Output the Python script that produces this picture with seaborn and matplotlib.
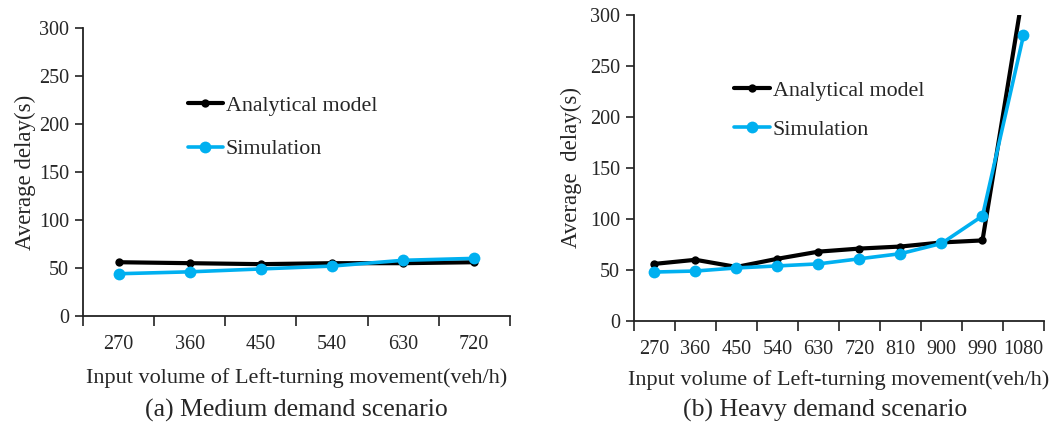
import numpy as np
import pandas as pd
import matplotlib
matplotlib.use("Agg")
import matplotlib.pyplot as plt
import seaborn as sns
from matplotlib.lines import Line2D

# Medium demand scenario
medium_volume = ["270", "360", "450", "540", "630", "720"]
medium_analytical = [56, 55, 54, 55, 55, 56]
medium_simulation = [44, 46, 49, 52, 58, 60]

# Heavy demand scenario
heavy_volume = ["270", "360", "450", "540", "630", "720", "810", "900", "990", "1080"]
heavy_analytical = [56, 60, 53, 61, 68, 71, 73, 77, 79, 325]
heavy_simulation = [48, 49, 52, 54, 56, 61, 66, 76, 103, 280]

y_ticks = [0, 50, 100, 150, 200, 250, 300]

BLACK = "#000000"
BLUE = "#00B0F0"

sns.set_theme(style="ticks")
plt.rcParams["font.family"] = ["Liberation Serif", "DejaVu Serif"]


def long_frame(volume, analytical, simulation):
    pos = np.arange(len(volume))
    return pd.concat([
        pd.DataFrame({"pos": pos, "delay": analytical, "series": "Analytical model"}),
        pd.DataFrame({"pos": pos, "delay": simulation, "series": "Simulation"}),
    ], ignore_index=True)


def draw_panel(ax, volume, analytical, simulation, ylabel, legend_anchor,
               labelspacing, xlabelpad, ylabelpad):
    df = long_frame(volume, analytical, simulation)
    sns.lineplot(data=df, x="pos", y="delay", hue="series", style="series",
                 palette={"Analytical model": BLACK, "Simulation": BLUE},
                 markers={"Analytical model": "o", "Simulation": "o"},
                 dashes=False, ax=ax, legend=False, sort=False)
    lines = ax.get_lines()
    lines[0].set_linewidth(3.0)
    lines[0].set_markersize(6)
    lines[0].set_markeredgewidth(0)
    lines[0].set_zorder(3)
    lines[1].set_linewidth(2.6)
    lines[1].set_markersize(8.5)
    lines[1].set_markeredgewidth(0)
    lines[1].set_zorder(4)

    n = len(volume)
    ax.set_xlim(-0.5, n - 0.5)
    ax.set_ylim(0, 300)
    ax.set_yticks(y_ticks)
    ax.set_yticklabels([str(v) for v in y_ticks], fontsize=14.5)
    # category boundaries carry the tick marks, labels sit at category centres
    ax.set_xticks(np.arange(n + 1) - 0.5)
    ax.set_xticklabels([])
    ax.set_xticks(np.arange(n), minor=True)
    ax.set_xticklabels(volume, minor=True, fontsize=14.5)
    ax.tick_params(axis="x", which="major", length=7, width=1.2, color="#222222", direction="out")
    ax.tick_params(axis="x", which="minor", length=0, pad=14)
    ax.tick_params(axis="y", length=6, width=1.2, color="#222222", direction="out", pad=4)
    for side in ("left", "bottom"):
        ax.spines[side].set_linewidth(1.3)
        ax.spines[side].set_color("#222222")
    sns.despine(ax=ax)
    ax.set_xlabel("Input volume of Left-turning movement(veh/h)", fontsize=16, labelpad=xlabelpad)
    ax.set_ylabel(ylabel, fontsize=16.5, labelpad=ylabelpad)

    handles = [
        Line2D([], [], color=BLACK, lw=3.0, marker="o", ms=6, mew=0),
        Line2D([], [], color=BLUE, lw=2.6, marker="o", ms=8.5, mew=0),
    ]
    ax.legend(handles, ["Analytical model", "Simulation"], loc="upper left",
              bbox_to_anchor=legend_anchor, frameon=False, fontsize=15.8,
              handlelength=1.6, handletextpad=0.15, labelspacing=labelspacing,
              borderpad=0, borderaxespad=0)


fig = plt.figure(figsize=(10.54, 4.28), dpi=100)
ax_a = fig.add_axes([0.0787, 0.2617, 0.405, 0.673])
ax_b = fig.add_axes([0.6015, 0.25, 0.389, 0.715])

draw_panel(ax_a, medium_volume, medium_analytical, medium_simulation,
           "Average delay(s)", (0.245, 0.765), 1.05, 10, 2)
draw_panel(ax_b, heavy_volume, heavy_analytical, heavy_simulation,
           "Average  delay(s)", (0.245, 0.785), 0.85, 8, 6)

fig.text(0.281, 0.042, "(a) Medium demand scenario", ha="center", va="center", fontsize=18.5)
fig.text(0.783, 0.042, "(b) Heavy demand scenario", ha="center", va="center", fontsize=18.5)

fig.savefig("out.png", dpi=100, facecolor="white")
